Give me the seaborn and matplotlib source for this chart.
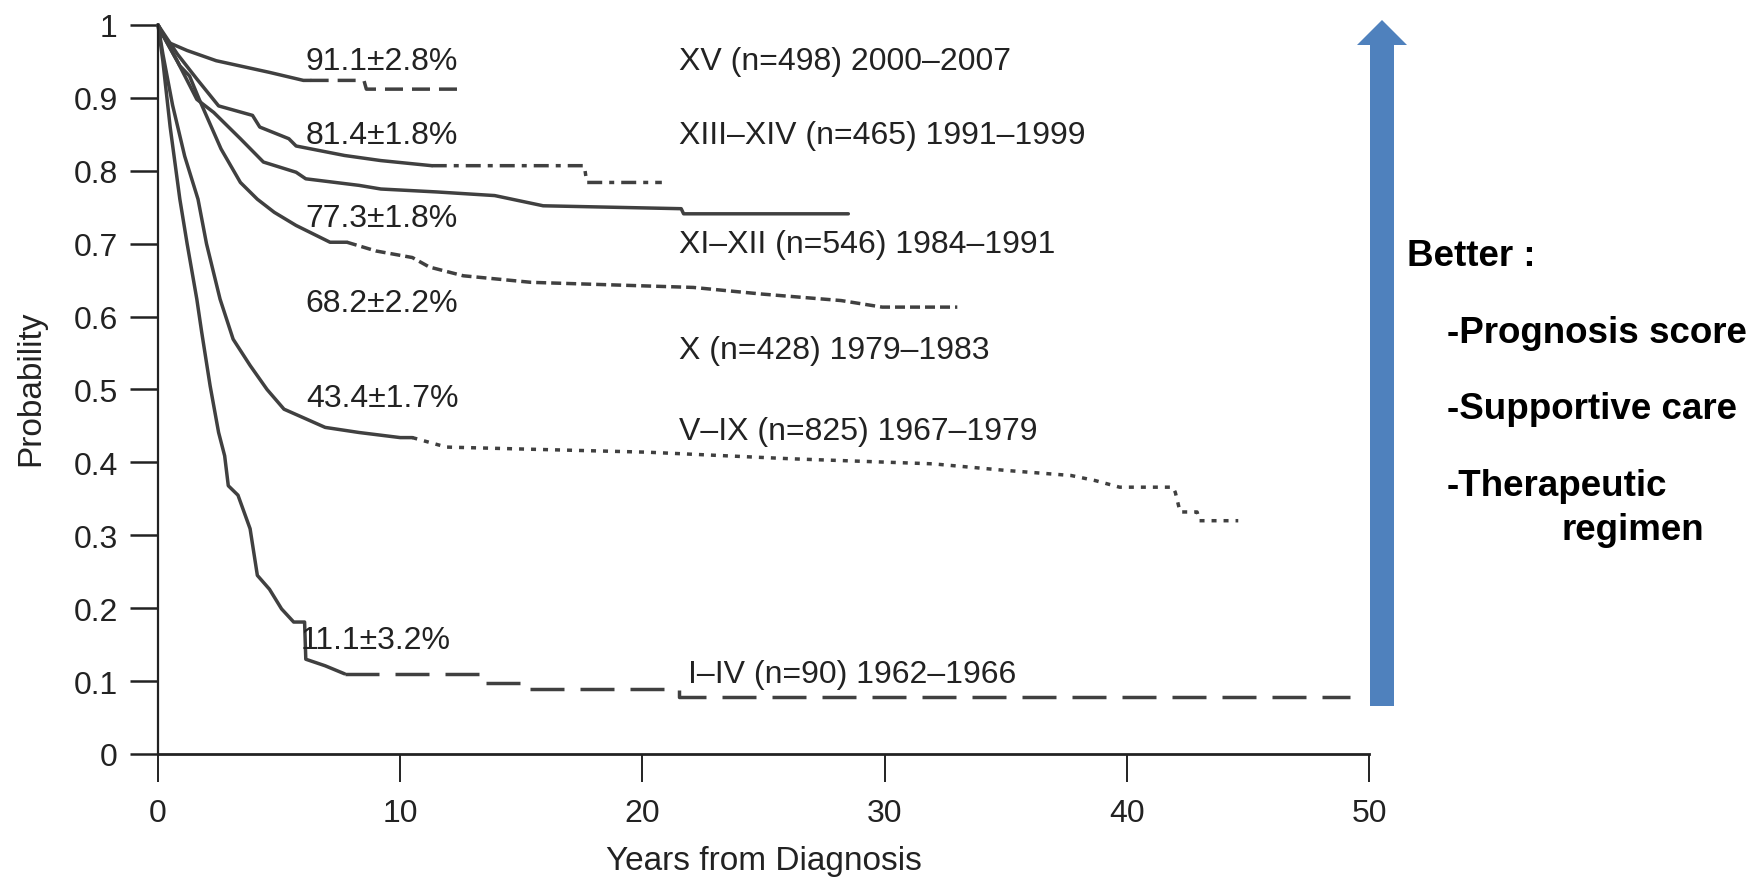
import numpy as np
import pandas as pd
import matplotlib
matplotlib.use("Agg")
import matplotlib.pyplot as plt
from matplotlib.patches import FancyArrow
import seaborn as sns

# survival curves (years, probability)
xv_x = [0, 0.2, 0.5, 1.2, 2.4, 4.6, 6.0, 8.5, 8.6, 12.4]
xv_y = [1, 0.985, 0.975, 0.965, 0.951, 0.935, 0.924, 0.924, 0.912, 0.912]

xiii_x = [0, 0.3, 0.8, 1.6, 2.5, 3.9, 4.2, 5.4, 5.7, 7.7, 9.2, 11.3, 17.6, 17.7, 20.8]
xiii_y = [1, 0.985, 0.96, 0.926, 0.889, 0.876, 0.860, 0.844, 0.834, 0.821, 0.814, 0.807, 0.807, 0.784, 0.784]

xi_x = [0, 0.3, 0.8, 1.6, 2.3, 3.4, 4.35, 5.7, 6.1, 8.3, 9.2, 11.5, 13.9, 15.9, 21.6, 21.7, 28.5]
xi_y = [1, 0.98, 0.95, 0.898, 0.880, 0.844, 0.812, 0.798, 0.789, 0.780, 0.775, 0.771, 0.766, 0.752, 0.748, 0.741, 0.741]

x_x = [0, 0.3, 0.9, 1.3, 1.7, 2.6, 3.4, 4.1, 4.8, 5.7, 7.1, 9.0, 10.5, 11.2, 12.6, 15.4, 22.1, 24.9, 28.2, 29.9, 33.0]
x_y = [1, 0.98, 0.944, 0.930, 0.898, 0.830, 0.784, 0.761, 0.743, 0.725, 0.702, 0.690, 0.681, 0.668, 0.656, 0.647, 0.640, 0.631, 0.622, 0.613, 0.613]

v_x = [0, 0.2, 0.6, 1.1, 1.65, 2.0, 2.56, 3.1, 3.8, 4.5, 5.2, 5.95, 6.9, 8.3, 10.0, 11.9, 20.2, 26.1,
       32.0, 35.0, 37.7, 38.7, 39.7, 41.9, 42.0, 42.2, 42.9, 43.0, 44.6]
v_y = [1, 0.96, 0.89, 0.82, 0.761, 0.70, 0.624, 0.569, 0.533, 0.500, 0.473, 0.462, 0.448, 0.441, 0.434, 0.421,
       0.414, 0.405, 0.398, 0.389, 0.382, 0.375, 0.366, 0.366, 0.359, 0.332, 0.332, 0.320, 0.320]

i_x = [0, 0.2, 0.5, 0.9, 1.2, 1.6, 1.8, 2.15, 2.5, 2.75, 2.9, 3.3, 3.8, 4.1, 4.6, 5.1, 5.6, 6.05, 6.1, 6.9,
       7.7, 13.5, 13.5, 15.0, 15.0, 21.5, 21.5, 49.2]
i_y = [1, 0.95, 0.86, 0.761, 0.70, 0.624, 0.579, 0.505, 0.441, 0.409, 0.368, 0.355, 0.309, 0.245, 0.226, 0.199,
       0.181, 0.181, 0.130, 0.121, 0.110, 0.110, 0.098, 0.098, 0.089, 0.089, 0.078, 0.078]

pct_labels = ["91.1±2.8%", "81.4±1.8%", "77.3±1.8%", "68.2±2.2%", "43.4±1.7%", "11.1±3.2%"]
pct_pos = [(6.1, 0.951), (6.1, 0.849), (6.1, 0.735), (6.1, 0.619), (6.1, 0.489), (5.9, 0.157)]

group_labels = ["XV (n=498) 2000–2007", "XIII–XIV (n=465) 1991–1999", "XI–XII (n=546) 1984–1991",
                "X (n=428) 1979–1983", "V–IX (n=825) 1967–1979", "I–IV (n=90) 1962–1966"]
group_pos = [(21.5, 0.951), (21.5, 0.849), (21.5, 0.699), (21.5, 0.554), (21.5, 0.443), (21.9, 0.110)]

LINE = "#404040"
LW = 2.5

# (x, y, year where dashing starts, dash pattern in px)
curves = [
    (xv_x, xv_y, 6.3, (18, 9)),
    (xiii_x, xiii_y, 11.3, (15, 7, 5, 7)),
    (xi_x, xi_y, None, None),
    (x_x, x_y, 7.8, (10, 5)),
    (v_x, v_y, 10.5, (5, 7)),
    (i_x, i_y, 7.7, (34, 16)),
]

sns.set_theme(style="ticks")
plt.rcParams["font.family"] = ["Liberation Sans", "DejaVu Sans"]

fig = plt.figure(figsize=(17.64, 8.78), dpi=100)
ax = fig.add_axes([0.0896, 0.1401, 0.6865, 0.8303])


def px_dash(pattern):
    return (0, tuple(p * 0.72 / LW for p in pattern))


for xs, ys, split, pat in curves:
    xs = np.asarray(xs, float)
    ys = np.asarray(ys, float)
    if split is None:
        sns.lineplot(x=xs, y=ys, ax=ax, color=LINE, lw=LW, sort=False, estimator=None, clip_on=False)
        continue
    k = np.searchsorted(xs, split, side="right")
    solid = pd.DataFrame({"x": np.r_[xs[:k], split], "y": np.r_[ys[:k], ys[k - 1]]})
    tail = pd.DataFrame({"x": np.r_[split, xs[k:]], "y": np.r_[ys[k - 1], ys[k:]]})
    sns.lineplot(data=solid, x="x", y="y", ax=ax, color=LINE, lw=LW, sort=False, estimator=None, clip_on=False)
    sns.lineplot(data=tail, x="x", y="y", ax=ax, color=LINE, lw=LW, sort=False, estimator=None,
                 linestyle=px_dash(pat), clip_on=False)

for txt, (px, py) in zip(pct_labels, pct_pos):
    ax.text(px, py, txt, fontsize=23, color="#222222", ha="left", va="center")
for txt, (px, py) in zip(group_labels, group_pos):
    ax.text(px, py, txt, fontsize=23, color="#222222", ha="left", va="center")

ax.set_xlim(0, 50)
ax.set_ylim(0, 1)
ax.set_xticks([0, 10, 20, 30, 40, 50])
ax.set_yticks(np.arange(0, 1.01, 0.1))
ax.set_yticklabels(["0", "0.1", "0.2", "0.3", "0.4", "0.5", "0.6", "0.7", "0.8", "0.9", "1"])
ax.tick_params(axis="y", length=20, width=1.8, pad=9, labelsize=23, colors="#222222")
ax.tick_params(axis="x", length=20, width=1.4, pad=12, labelsize=23, colors="#222222")
for s in ["top", "right"]:
    ax.spines[s].set_visible(False)
ax.spines["left"].set_linewidth(1.6)
ax.spines["bottom"].set_linewidth(2.0)
ax.spines["left"].set_color("#222222")
ax.spines["bottom"].set_color("#222222")
ax.set_xlabel("Years from Diagnosis", fontsize=24, color="#222222")
ax.set_ylabel("Probability", fontsize=24, color="#222222")
ax.xaxis.set_label_coords(0.5, -0.125)
ax.yaxis.set_label_coords(-0.092, 0.503)

# "better" arrow and notes on the right
W, H = 1764, 878
arrow = FancyArrow(1382 / W, 1 - 707 / H, 0, (707 - 21) / H, width=24 / W, head_width=50 / W,
                   head_length=25 / H, length_includes_head=True, transform=fig.transFigure,
                   color="#4F81BD", lw=0)
fig.patches.append(arrow)

notes = [("Better :", 1407, 257), ("-Prognosis score", 1447, 334), ("-Supportive care", 1447, 410),
         ("-Therapeutic", 1447, 487), ("regimen", 1562, 531)]
for txt, nx, ny in notes:
    fig.text(nx / W, 1 - ny / H, txt, fontsize=26.5, fontweight="bold", color="black", ha="left", va="center")

fig.savefig("out.png", dpi=100)
